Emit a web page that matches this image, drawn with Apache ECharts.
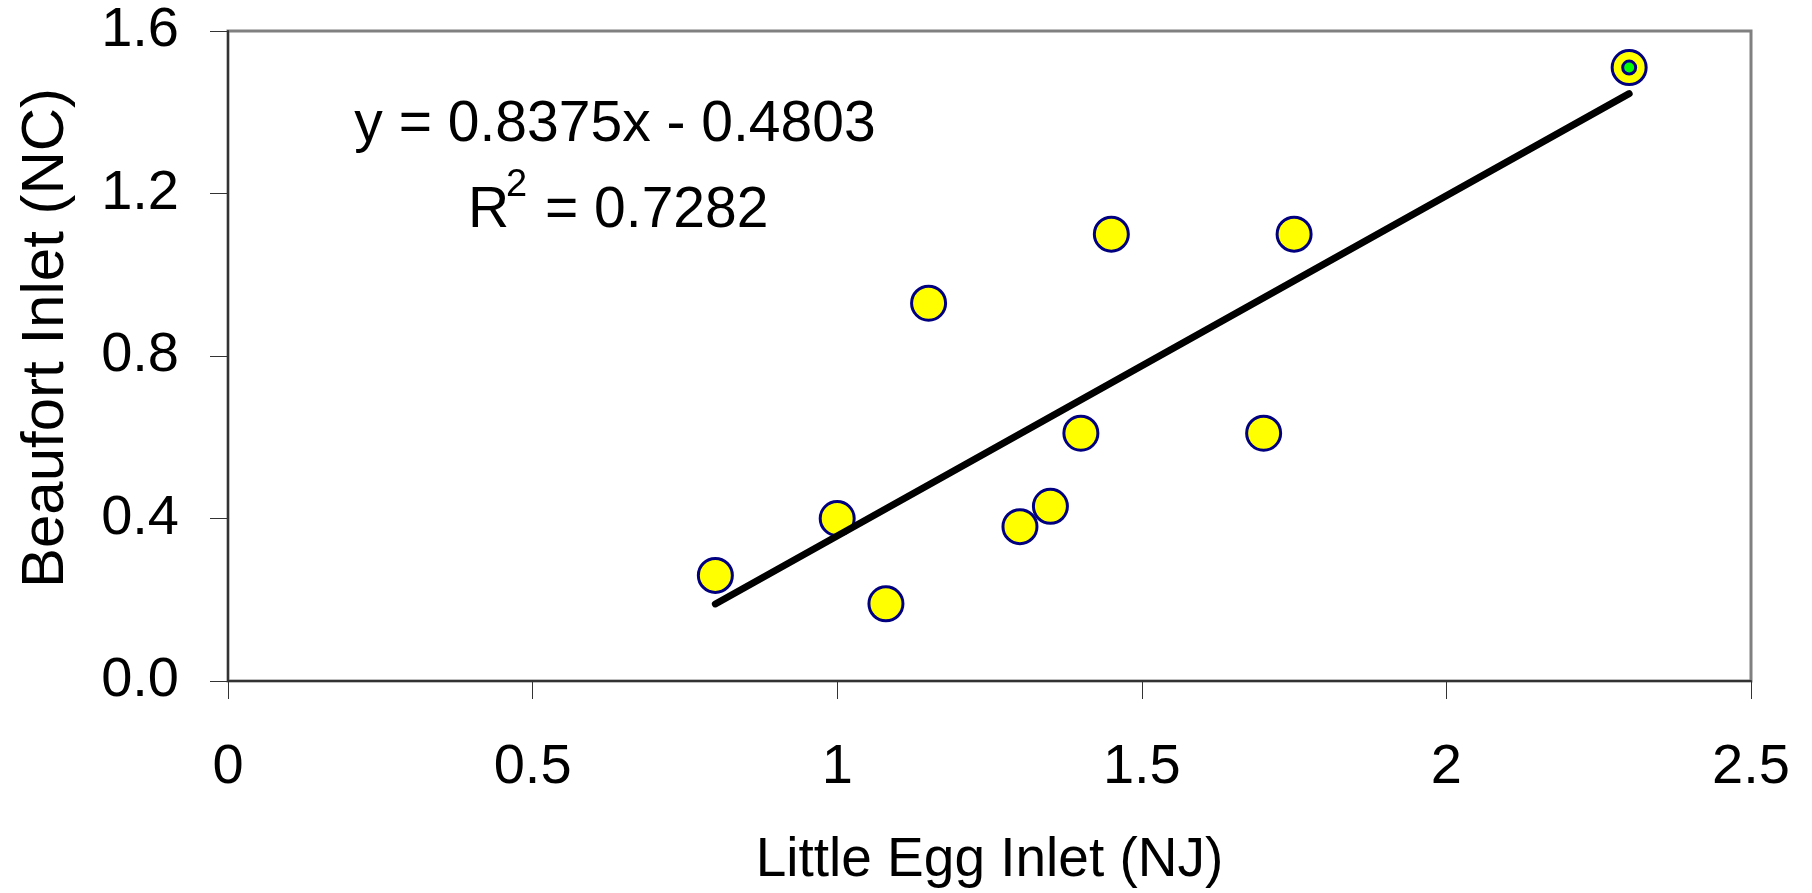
<!DOCTYPE html>
<html>
<head>
<meta charset="utf-8">
<title>Little Egg Inlet vs Beaufort Inlet</title>
<script src="https://cdn.jsdelivr.net/npm/echarts@6/dist/echarts.min.js"></script>
<style>
  html, body { margin: 0; padding: 0; background: #fff; }
  #chart { width: 1812px; height: 893px; }
</style>
</head>
<body>
<div id="chart"></div>
<script>
// Paired observations: Little Egg Inlet (NJ) on x, Beaufort Inlet (NC) on y
const littleEgg = [0.80, 1.00, 1.08, 1.15, 1.30, 1.35, 1.40, 1.45, 1.70, 1.75, 2.30];
const beaufort  = [0.26, 0.40, 0.19, 0.93, 0.38, 0.43, 0.61, 1.10, 0.61, 1.10, 1.51];

// Highlighted observation (most recent), drawn with a green centre
const highlightIndex = [10];

// Linear trendline as reported, and the x range it spans
const trendSlope = 0.8375;
const trendIntercept = -0.4803;
const trendRSquared = 0.7282;
const trendRange = [0.80, 2.30];

// Axis ticks
const xTicks = [0, 0.5, 1, 1.5, 2, 2.5];
const yTicks = [0.0, 0.4, 0.8, 1.2, 1.6];

// Axis titles
const xTitle = 'Little Egg Inlet (NJ)';
const yTitle = 'Beaufort Inlet (NC)';

const FONT = '"Liberation Sans", Arial, Helvetica, sans-serif';

const points = littleEgg.map((x, i) => [x, beaufort[i]]);
const highlighted = highlightIndex.map(i => points[i]);
const trendLine = trendRange.map(x => [x, trendSlope * x + trendIntercept]);

const eqText = 'y = ' + trendSlope.toFixed(4) + 'x - ' + Math.abs(trendIntercept).toFixed(4);
const r2Text = '= ' + trendRSquared.toFixed(4);

const chart = echarts.init(document.getElementById('chart'), null, { renderer: 'canvas' });

const axisLineStyle = { color: '#333333', width: 2 };

chart.setOption({
  animation: false,
  backgroundColor: '#ffffff',
  grid: {
    left: 228, right: 61, top: 31, bottom: 212,
    show: true, borderColor: '#808080', borderWidth: 3, backgroundColor: '#ffffff'
  },
  xAxis: {
    type: 'value',
    min: xTicks[0], max: xTicks[xTicks.length - 1], interval: 0.5,
    name: xTitle,
    nameLocation: 'middle',
    nameGap: 152,
    nameTextStyle: { fontFamily: FONT, fontSize: 55, color: '#000' },
    axisLine: { show: true, onZero: false, lineStyle: axisLineStyle },
    axisTick: { show: true, inside: false, length: 18, lineStyle: { color: '#333', width: 1 } },
    axisLabel: {
      margin: 59, fontFamily: FONT, fontSize: 56, color: '#000',
      formatter: v => String(v)
    },
    splitLine: { show: false }
  },
  yAxis: {
    type: 'value',
    min: yTicks[0], max: yTicks[yTicks.length - 1], interval: 0.4,
    axisLine: { show: true, onZero: false, lineStyle: axisLineStyle },
    axisTick: { show: true, inside: false, length: 18, lineStyle: { color: '#333', width: 1 } },
    axisLabel: {
      margin: 49, fontFamily: FONT, fontSize: 56, color: '#000',
      formatter: v => v.toFixed(1)
    },
    splitLine: { show: false }
  },
  series: [
    {
      name: 'Observations',
      type: 'scatter',
      data: points,
      symbol: 'circle',
      symbolSize: 34,
      itemStyle: { color: '#ffff00', borderColor: '#000080', borderWidth: 3, opacity: 1 },
      z: 2
    },
    {
      name: 'Linear trend',
      type: 'line',
      data: trendLine,
      showSymbol: false,
      symbol: 'none',
      lineStyle: { color: '#000000', width: 7, cap: 'round' },
      z: 3
    },
    {
      name: 'Latest',
      type: 'scatter',
      data: highlighted,
      symbol: 'circle',
      symbolSize: 13,
      itemStyle: { color: '#00ff00', borderColor: '#000080', borderWidth: 3, opacity: 1 },
      z: 4
    }
  ],
  graphic: [
    {
      type: 'text', x: 46, y: 338, rotation: Math.PI / 2, z: 10,
      style: { text: yTitle, fontFamily: FONT, fontSize: 60, fill: '#000', textAlign: 'center', textVerticalAlign: 'middle' }
    },
    {
      type: 'text', x: 615, y: 125, z: 10,
      style: { text: eqText, fontFamily: FONT, fontSize: 57, fill: '#000', textAlign: 'center', textVerticalAlign: 'middle' }
    },
    {
      type: 'text', x: 468, y: 211, z: 10,
      style: { text: 'R', fontFamily: FONT, fontSize: 57, fill: '#000', textAlign: 'left', textVerticalAlign: 'middle' }
    },
    {
      type: 'text', x: 506, y: 186, z: 10,
      style: { text: '2', fontFamily: FONT, fontSize: 38, fill: '#000', textAlign: 'left', textVerticalAlign: 'middle' }
    },
    {
      type: 'text', x: 545, y: 211, z: 10,
      style: { text: r2Text, fontFamily: FONT, fontSize: 57, fill: '#000', textAlign: 'left', textVerticalAlign: 'middle' }
    }
  ]
});
</script>
</body>
</html>
